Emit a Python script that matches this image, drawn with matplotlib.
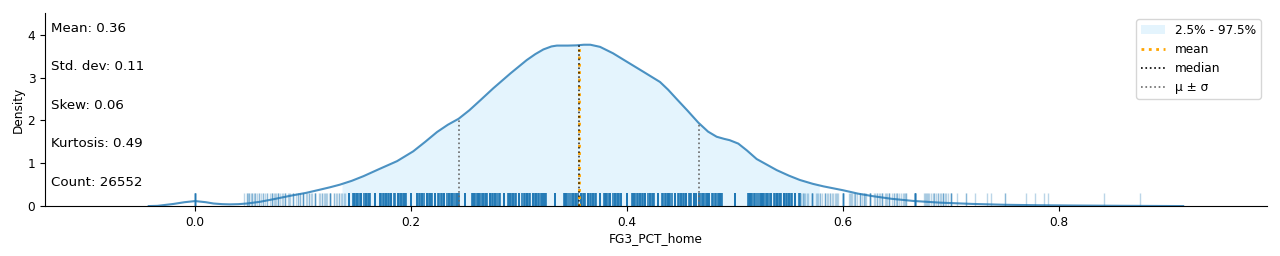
import numpy as np
import matplotlib
matplotlib.use("Agg")
import matplotlib.pyplot as plt
from matplotlib.patches import Patch
from matplotlib.lines import Line2D

# density curve of FG3_PCT_home
kde_x = [-0.043, -0.035, -0.02, -0.01, 0.0, 0.01, 0.017, 0.025, 0.032, 0.04, 0.048,
         0.06, 0.0725, 0.088, 0.103, 0.115, 0.125, 0.134, 0.145, 0.156, 0.17, 0.187,
         0.202, 0.213, 0.224, 0.234, 0.244, 0.254, 0.264, 0.276, 0.292, 0.307,
         0.315, 0.3225, 0.33, 0.335, 0.345, 0.353, 0.36, 0.366, 0.375, 0.387,
         0.40, 0.415, 0.4305, 0.438, 0.446, 0.456, 0.466, 0.475, 0.483, 0.49,
         0.495, 0.503, 0.511, 0.520, 0.5386, 0.550, 0.560, 0.572, 0.582, 0.600,
         0.614, 0.628, 0.645, 0.665, 0.69, 0.72, 0.75, 0.78, 0.813, 0.86, 0.915]
kde_y = [0.0, 0.005, 0.05, 0.09, 0.117, 0.09, 0.06, 0.045, 0.04, 0.045, 0.06,
         0.10, 0.16, 0.24, 0.31, 0.38, 0.44, 0.50, 0.59, 0.70, 0.86, 1.05,
         1.28, 1.50, 1.73, 1.90, 2.04, 2.24, 2.47, 2.75, 3.10, 3.41,
         3.55, 3.66, 3.73, 3.75, 3.75, 3.755, 3.77, 3.77, 3.72, 3.57,
         3.37, 3.14, 2.90, 2.72, 2.50, 2.23, 1.95, 1.74, 1.62, 1.57,
         1.54, 1.46, 1.30, 1.10, 0.84, 0.71, 0.61, 0.52, 0.46, 0.37,
         0.29, 0.23, 0.17, 0.12, 0.08, 0.05, 0.03, 0.02, 0.013, 0.006, 0.0]

mean = 0.3556
median = 0.3556
std = 0.1111
q_lo, q_hi = 0.136, 0.578

stat_labels = ["Mean: 0.36", "Std. dev: 0.11", "Skew: 0.06", "Kurtosis: 0.49", "Count: 26552"]

# rug: observed 3PM per 3PA (lowest/highest made overall, and the common "core" range)
rug_attempts = [5, 6, 7, 8, 9, 10, 11, 12, 13, 14, 15, 16, 17, 18, 19, 20, 21, 22, 23,
                24, 25, 26, 27, 28, 29, 30, 31, 32, 33, 34, 35, 36, 37, 38, 39, 40, 41, 42]
rug_lo_all = [0, 0, 0, 0, 0, 0, 0, 0, 0, 0, 1, 1, 1, 1, 1, 1, 1, 1, 2,
              2, 2, 2, 2, 2, 2, 2, 2, 2, 2, 2, 2, 2, 2, 2, 2, 2, 2, 2]
rug_lo_core = [1, 1, 1, 2, 2, 2, 2, 2, 2, 2, 3, 3, 3, 3, 3, 3, 3, 4, 4,
               4, 4, 4, 4, 4, 5, 5, 5, 5, 5, 5, 5, 6, 6, 6, 6, 6, 6, 6]
rug_hi_core = [2, 3, 3, 4, 5, 5, 6, 6, 7, 7, 8, 8, 9, 10, 10, 11, 11, 12, 12,
               13, 14, 14, 15, 15, 16, 16, 17, 17, 18, 19, 19, 20, 20, 21, 21, 22, 22, 23]
rug_hi_all = [3, 4, 5, 7, 7, 7, 7, 9, 10, 11, 11, 11, 12, 13, 16, 14, 14, 15, 16,
              16, 17, 18, 18, 19, 20, 21, 21, 22, 23, 23, 24, 25, 25, 26, 27, 28, 28, 29]

blue = "#1f77b4"

fig = plt.figure(figsize=(12.8, 2.56), dpi=100)
ax = fig.add_axes([0.0352, 0.195, 0.9546, 0.754])

# rug
rug_vals = []
rug_cols = []
rug_lw = []
for n, la, lc, hc, ha in zip(rug_attempts, rug_lo_all, rug_lo_core, rug_hi_core, rug_hi_all):
    for k in range(la, ha + 1):
        rug_vals.append(k / n)
        core = lc <= k <= hc
        rug_cols.append(matplotlib.colors.to_rgba(blue, 0.9 if core else 0.3))
        rug_lw.append(1.3 if core else 1.0)
ax.vlines(rug_vals, 0, 0.31, colors=rug_cols, linewidths=rug_lw)

# shaded 2.5-97.5 region
kx = np.array(kde_x)
ky = np.array(kde_y)
inside = (kx > q_lo) & (kx < q_hi)
fx = np.concatenate([[q_lo], kx[inside], [q_hi]])
fy = np.interp(fx, kx, ky)
ax.fill_between(fx, 0, fy, color="lightskyblue", alpha=0.22, linewidth=0)

ax.plot(kx, ky, color=blue, alpha=0.8, linewidth=1.5)

# reference lines
ax.vlines(mean, 0, np.interp(mean, kx, ky), colors="orange", linestyles=":", linewidth=2)
ax.vlines(median, 0, np.interp(median, kx, ky), colors="black", linestyles=":", linewidth=1.2, alpha=0.8)
for v in (mean - std, mean + std):
    ax.vlines(v, 0, np.interp(v, kx, ky), colors="dimgray", linestyles=":", linewidth=1.2)

for i, s in enumerate(stat_labels):
    ax.text(0.005, 0.922 - i * 0.1995, s, transform=ax.transAxes, fontsize=9.6, va="center")

handles = [Patch(facecolor="lightskyblue", alpha=0.22, label="2.5% - 97.5%"),
           Line2D([], [], color="orange", linestyle=":", linewidth=2, label="mean"),
           Line2D([], [], color="black", linestyle=":", linewidth=1.2, label="median"),
           Line2D([], [], color="dimgray", linestyle=":", linewidth=1.2, label="\u03bc \u00b1 \u03c3")]
ax.legend(handles=handles, loc="upper right", fontsize=8.7)

ax.set_xlim(-0.139, 0.9926)
ax.set_ylim(0, 4.51)
ax.set_yticks([0, 1, 2, 3, 4])
ax.set_xticks([0.0, 0.2, 0.4, 0.6, 0.8])
ax.tick_params(labelsize=8.7)
ax.set_xlabel("FG3_PCT_home", fontsize=8.7, labelpad=2)
ax.set_ylabel("Density", fontsize=8.7, labelpad=2)
ax.spines["top"].set_visible(False)
ax.spines["right"].set_visible(False)

fig.savefig("out.png", dpi=100)
